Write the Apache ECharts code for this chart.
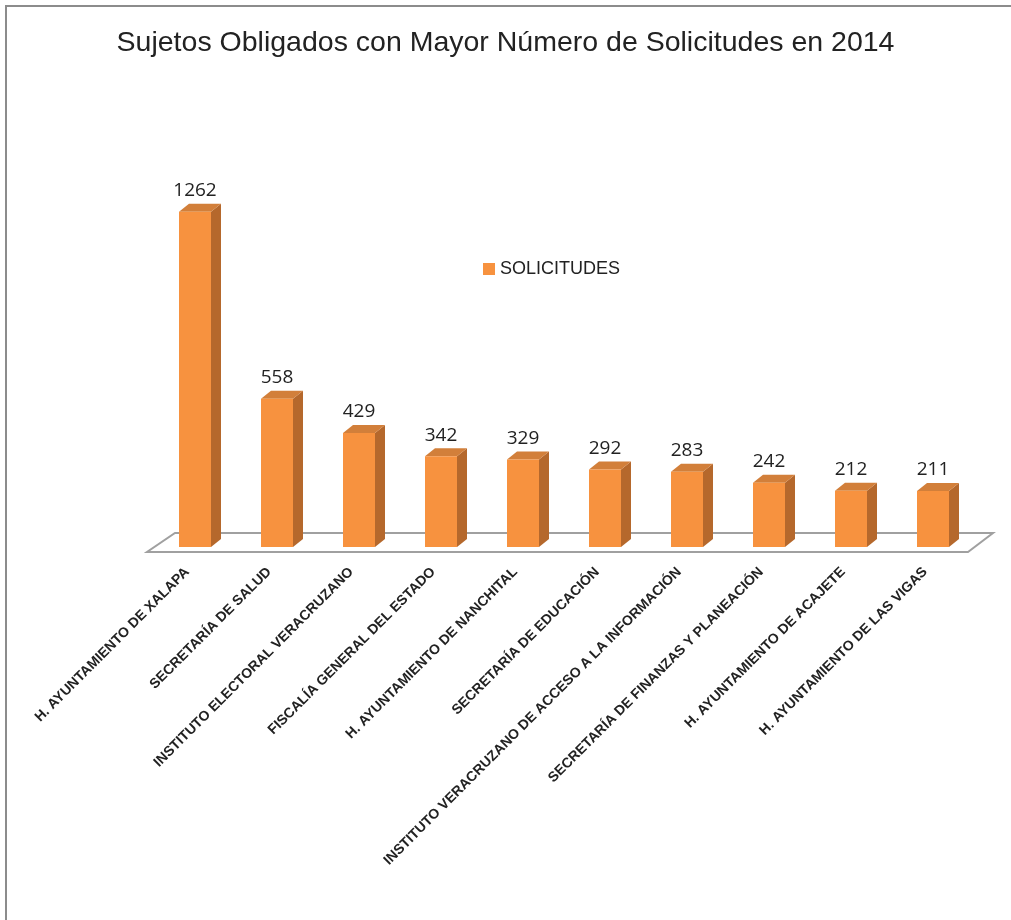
<!DOCTYPE html>
<html>
<head>
<meta charset="utf-8">
<script src="https://cdn.jsdelivr.net/npm/echarts@6/dist/echarts.min.js"></script>
<style>html,body{margin:0;padding:0;background:#fff}#c{width:1011px;height:920px}</style>
</head>
<body>
<div id="c"></div>
<script>
const titleText = 'Sujetos Obligados con Mayor Número de Solicitudes en 2014';
const seriesName = 'SOLICITUDES';
const categories = [
  'H. AYUNTAMIENTO DE XALAPA',
  'SECRETARÍA DE SALUD',
  'INSTITUTO ELECTORAL VERACRUZANO',
  'FISCALÍA GENERAL DEL ESTADO',
  'H. AYUNTAMIENTO DE NANCHITAL',
  'SECRETARÍA DE EDUCACIÓN',
  'INSTITUTO VERACRUZANO DE ACCESO A LA INFORMACIÓN',
  'SECRETARÍA DE FINANZAS Y PLANEACIÓN',
  'H. AYUNTAMIENTO DE ACAJETE',
  'H. AYUNTAMIENTO DE LAS VIGAS'
];
const values = [1262, 558, 429, 342, 329, 292, 283, 242, 212, 211];

const FRONT = '#F7923F', SIDE = '#B5682C', TOP = '#D27F3A';

const chart = echarts.init(document.getElementById('c'));
chart.setOption({
  backgroundColor: '#fff',
  animation: false,
  title: {
    text: titleText, left: 'center', top: 24,
    textStyle: {fontFamily: 'Liberation Sans', fontSize: 28.5, fontWeight: 'normal', color: '#222'}
  },
  legend: {
    data: [seriesName], left: 483, top: 260, padding: 0, icon: 'rect', itemWidth: 12, itemHeight: 12, itemGap: 5,
    textStyle: {fontFamily: 'Liberation Sans', fontSize: 18, color: '#222'}
  },
  graphic: [{
    type: 'rect', shape: {x: 6, y: 6, width: 1100, height: 1000},
    style: {fill: 'none', stroke: '#8c8c8c', lineWidth: 2}, silent: true, z: -10
  }],
  grid: {left: 154, right: 37, top: 175, bottom: 373},
  xAxis: {
    type: 'category', data: categories,
    axisLine: {show: false}, axisTick: {show: false},
    axisLabel: {
      interval: 0, rotate: 45, margin: 15, padding: [0, 11, 0, 0],
      fontFamily: 'Liberation Sans', fontWeight: 'bold', fontSize: 14, color: '#222'
    }
  },
  yAxis: {type: 'value', min: 0, max: 1400, show: false, splitLine: {show: false}},
  series: [
    {
      type: 'custom', name: 'floor', z: 1, silent: true,
      data: [[0, 0]],
      encode: {x: 0, y: 1},
      renderItem: function (params, api) {
        const a = api.coord([0, 0]);
        const b = api.coord([categories.length - 1, 0]);
        const y0 = a[1];
        return {
          type: 'polygon',
          shape: {points: [[a[0] - 48, y0 + 5], [b[0] + 35, y0 + 5], [b[0] + 60, y0 - 14], [a[0] - 20, y0 - 14]]},
          style: {fill: '#fff', stroke: '#a0a0a0', lineWidth: 2}
        };
      }
    },
    {
      type: 'custom', name: seriesName, z: 2,
      itemStyle: {color: FRONT},
      data: values.map((v, i) => [i, v]),
      encode: {x: 0, y: 1},
      renderItem: function (params, api) {
        const i = api.value(0), v = api.value(1);
        const p0 = api.coord([i, 0]);
        const p1 = api.coord([i, v]);
        const w = 32, dx = 10, dy = 8;
        const l = p0[0] - w / 2, r = p0[0] + w / 2, b = p0[1], t = p1[1];
        return {
          type: 'group',
          children: [
            {type: 'polygon', shape: {points: [[r, b], [r + dx, b - dy], [r + dx, t - dy], [r, t]]}, style: {fill: SIDE}},
            {type: 'polygon', shape: {points: [[l, t], [r, t], [r + dx, t - dy], [l + dx, t - dy]]}, style: {fill: TOP}},
            {type: 'rect', shape: {x: l, y: t, width: w, height: b - t}, style: {fill: FRONT}},
            {type: 'text', x: p0[0], y: t - dy - 13,
              style: {text: String(v), fontFamily: 'Open Sans', fontSize: 19, fill: '#222', align: 'center', verticalAlign: 'middle'}}
          ]
        };
      }
    }
  ]
});
</script>
</body>
</html>
